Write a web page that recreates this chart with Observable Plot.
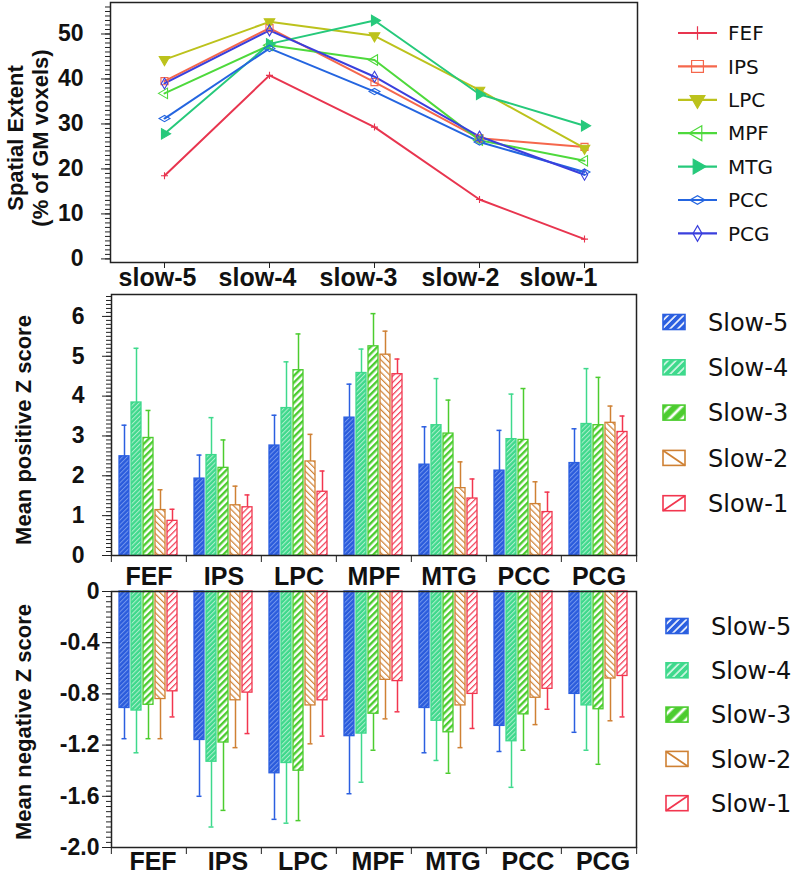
<!DOCTYPE html>
<html>
<head>
<meta charset="utf-8">
<script src="https://cdn.jsdelivr.net/npm/d3@7"></script>
<script src="https://cdn.jsdelivr.net/npm/@observablehq/plot@0.6"></script>
<style>
  html, body { margin: 0; padding: 0; background: #fff; }
  #root { position: relative; width: 792px; height: 876px; overflow: hidden; background: #fff; }
  .panel { position: absolute; left: 0; }
  .ytitle { position: absolute; font-family: "Liberation Sans", Arial, sans-serif; font-weight: bold; font-size: 22px; color: #111;
            white-space: nowrap; text-align: center; transform: translate(-50%, -50%) rotate(-90deg); line-height: 25px; }
  .legend { position: absolute; overflow: visible; }
</style>
</head>
<body>
<svg width="0" height="0" style="position:absolute">
  <defs>
    <pattern id="hatch0" patternUnits="userSpaceOnUse" width="3.3" height="3.3" patternTransform="rotate(45)">
      <rect width="3.3" height="3.3" fill="#2a5bdc"/>
      <line x1="0.5" y1="-1" x2="0.5" y2="5" stroke="#7a9cee" stroke-width="0.9"/>
    </pattern>
    <pattern id="hatch1" patternUnits="userSpaceOnUse" width="3.3" height="3.3" patternTransform="rotate(45)">
      <rect width="3.3" height="3.3" fill="#3fd88c"/>
      <line x1="0.5" y1="-1" x2="0.5" y2="5" stroke="#aeefcd" stroke-width="1"/>
    </pattern>
    <pattern id="hatch2" patternUnits="userSpaceOnUse" width="4.8" height="4.8" patternTransform="rotate(45)">
      <rect width="4.8" height="4.8" fill="#ffffff"/>
      <line x1="1.2" y1="-1" x2="1.2" y2="6" stroke="#4ccc2f" stroke-width="2.4"/>
    </pattern>
    <pattern id="hatch3" patternUnits="userSpaceOnUse" width="4.4" height="4.4" patternTransform="rotate(-45)">
      <rect width="4.4" height="4.4" fill="#ffffff"/>
      <line x1="0.6" y1="-1" x2="0.6" y2="6" stroke="#cf8134" stroke-width="1.2"/>
    </pattern>
    <pattern id="hatch4" patternUnits="userSpaceOnUse" width="4.4" height="4.4" patternTransform="rotate(45)">
      <rect width="4.4" height="4.4" fill="#ffffff"/>
      <line x1="0.6" y1="-1" x2="0.6" y2="6" stroke="#f2364f" stroke-width="1.2"/>
    </pattern>
    <pattern id="lhatch0" patternUnits="userSpaceOnUse" width="5.5" height="5.5" patternTransform="rotate(45)">
      <rect width="5.5" height="5.5" fill="#2b5fe0"/>
      <line x1="1" y1="-1" x2="1" y2="7" stroke="#ffffff" stroke-width="1.6"/>
    </pattern>
    <pattern id="lhatch1" patternUnits="userSpaceOnUse" width="5.5" height="5.5" patternTransform="rotate(45)">
      <rect width="5.5" height="5.5" fill="#3ed98c"/>
      <line x1="1" y1="-1" x2="1" y2="7" stroke="#dcf8ea" stroke-width="1.6"/>
    </pattern>
    <pattern id="lhatch2" patternUnits="userSpaceOnUse" width="9" height="9" patternTransform="rotate(45)">
      <rect width="9" height="9" fill="#4ccc2f"/>
      <line x1="2" y1="-1" x2="2" y2="10" stroke="#ffffff" stroke-width="2.8"/>
    </pattern>
  </defs>
</svg>
<div id="root"></div>
<script>
// ---------------- data ----------------
const periods = ["slow-5", "slow-4", "slow-3", "slow-2", "slow-1"];
const regions = ["FEF", "IPS", "LPC", "MPF", "MTG", "PCC", "PCG"];
const bands = ["Slow-5", "Slow-4", "Slow-3", "Slow-2", "Slow-1"];

// Spatial extent (% of GM voxels), by region, over periods slow-5 ... slow-1
const extentFEF = [18.5, 40.8, 29.3, 13.2, 4.4];
const extentIPS = [39.5, 51.3, 39.3, 26.8, 24.9];
const extentLPC = [44.3, 52.7, 49.6, 37.5, 24.6];
const extentMPF = [36.8, 47.5, 44.2, 26.4, 21.8];
const extentMTG = [27.8, 47.8, 53.0, 36.6, 29.6];
const extentPCC = [31.2, 46.8, 37.2, 26.0, 19.3];
const extentPCG = [39.0, 50.8, 40.5, 27.2, 18.7];

// Mean positive Z score (and upper end of error bar), by band, over regions FEF ... PCG
const posSlow5 = [2.49, 1.93, 2.76, 3.46, 2.28, 2.13, 2.32];
const posSlow4 = [3.84, 2.52, 3.70, 4.58, 3.27, 2.92, 3.30];
const posSlow3 = [2.95, 2.20, 4.65, 5.25, 3.06, 2.90, 3.27];
const posSlow2 = [1.14, 1.26, 2.36, 5.04, 1.69, 1.29, 3.33];
const posSlow1 = [0.87, 1.21, 1.60, 4.55, 1.43, 1.09, 3.10];
const posSlow5Hi = [3.27, 2.52, 3.52, 4.30, 3.23, 3.14, 3.18];
const posSlow4Hi = [5.20, 3.46, 4.86, 5.18, 4.44, 4.05, 4.69];
const posSlow3Hi = [3.64, 2.90, 5.56, 6.07, 3.90, 4.19, 4.47];
const posSlow2Hi = [1.65, 1.74, 3.04, 5.63, 2.35, 1.85, 3.75];
const posSlow1Hi = [1.16, 1.52, 2.12, 4.93, 1.92, 1.59, 3.50];

// Mean negative Z score (and lower end of error bar), by band, over regions FEF ... PCG
const negSlow5 = [-0.91, -1.16, -1.42, -1.13, -0.91, -1.05, -0.80];
const negSlow4 = [-0.93, -1.33, -1.34, -1.11, -1.01, -1.17, -0.89];
const negSlow3 = [-0.885, -1.18, -1.40, -0.955, -1.10, -0.96, -0.92];
const negSlow2 = [-0.84, -0.85, -0.89, -0.69, -0.89, -0.83, -0.68];
const negSlow1 = [-0.78, -0.79, -0.85, -0.70, -0.80, -0.76, -0.66];
const negSlow5Lo = [-1.15, -1.60, -1.78, -1.58, -1.26, -1.25, -1.10];
const negSlow4Lo = [-1.26, -1.84, -1.81, -1.49, -1.32, -1.53, -1.24];
const negSlow3Lo = [-1.15, -1.71, -1.79, -1.24, -1.42, -1.24, -1.35];
const negSlow2Lo = [-1.15, -1.22, -1.19, -0.995, -1.22, -1.04, -1.01];
const negSlow1Lo = [-0.98, -1.11, -1.13, -0.94, -1.07, -0.92, -0.98];

// axis ticks
const extentTicks = [0, 10, 20, 30, 40, 50];
const posTicks = [0, 1, 2, 3, 4, 5, 6];
const negTicks = [-2.0, -1.6, -1.2, -0.8, -0.4, 0];

// ---------------- styles ----------------
const regionColors = ["#e8354f", "#f5674c", "#bcc21c", "#4ed93c", "#26c97b", "#2465e0", "#3a3fdd"];
const markerStyles = [
  {symbol: "plus", rotate: 0, filled: false, r: 2.4, lsize: 60},
  {symbol: "square", rotate: 0, filled: false, r: 4.0, lsize: 140},
  {symbol: "triangle", rotate: 180, filled: true, r: 3.9, lsize: 95},
  {symbol: "triangle", rotate: -90, filled: false, r: 3.9, lsize: 95},
  {symbol: "triangle", rotate: 90, filled: true, r: 3.9, lsize: 95},
  {symbol: "diamond", rotate: 90, filled: false, r: 3.3, lsize: 66},
  {symbol: "diamond", rotate: 0, filled: false, r: 3.3, lsize: 70}
];
const periodLabelShift = [-7, -12, -16, -19, -26];   // label offsets seen in the original figure
const barColors = ["#2b5fe0", "#3ed98c", "#4ccc2f", "#cf8134", "#f2364f"];
const barFills = bands.map((b, i) => `url(#hatch${i})`);
const bandIdx = new Map(bands.map((b, i) => [b, i]));
const FONT = "'Liberation Sans', Arial, Helvetica, sans-serif";
const LFONT = "'DejaVu Sans', Verdana, sans-serif";
const INK = "#222";

// ---------------- tables ----------------
const extentRows = [extentFEF, extentIPS, extentLPC, extentMPF, extentMTG, extentPCC, extentPCG];
const extentData = regions.flatMap((r, i) => periods.map((p, j) => ({region: r, period: p, value: extentRows[i][j]})));

const posMeans = [posSlow5, posSlow4, posSlow3, posSlow2, posSlow1];
const posEnds = [posSlow5Hi, posSlow4Hi, posSlow3Hi, posSlow2Hi, posSlow1Hi];
const posData = bands.flatMap((b, i) => regions.map((r, j) => ({band: b, region: r, mean: posMeans[i][j], end: posEnds[i][j]})));

const negMeans = [negSlow5, negSlow4, negSlow3, negSlow2, negSlow1];
const negEnds = [negSlow5Lo, negSlow4Lo, negSlow3Lo, negSlow2Lo, negSlow1Lo];
const negData = bands.flatMap((b, i) => regions.map((r, j) => ({band: b, region: r, mean: negMeans[i][j], end: negEnds[i][j]})));

const root = document.getElementById("root");
const W = 792, ML = 110, MR = 155;

function place(node, top) {
  node.classList.add("panel");
  node.style.top = top + "px";
  root.appendChild(node);
}

// ---------------- panel 1: spatial extent ----------------
const p1 = Plot.plot({
  width: W, height: 294,
  marginLeft: ML, marginRight: MR, marginTop: 2, marginBottom: 32,
  style: {background: "transparent", overflow: "visible", fontFamily: FONT, color: "#111"},
  x: {type: "point", domain: periods, padding: 0.5},
  y: {domain: [-0.8, 57]},
  color: {domain: regions, range: regionColors},
  marks: [
    Plot.line(extentData, {x: "period", y: "value", z: "region", stroke: "region", strokeWidth: 2}),
    ...regions.map((r, i) => Plot.dot(extentData.filter(d => d.region === r), {
      x: "period", y: "value",
      symbol: markerStyles[i].symbol, rotate: markerStyles[i].rotate, r: markerStyles[i].r,
      stroke: "region", fill: markerStyles[i].filled ? "region" : "none", strokeWidth: 1.1
    })),
    Plot.frame({stroke: INK, strokeWidth: 1.5}),
    Plot.axisY({ticks: d3.range(0, 57, 1), tickSize: 5, tickFormat: () => "", stroke: INK, label: null}),
    Plot.axisY({ticks: extentTicks, tickSize: 9, tickFormat: () => "", stroke: INK, label: null}),
    Plot.text(extentTicks, {y: d => d, text: d => String(d), frameAnchor: "left", dx: -27, textAnchor: "end",
      fontSize: 23, fontWeight: "bold", fill: "#111"}),
    Plot.axisX({tickSize: 6, tickFormat: () => "", stroke: INK, label: null}),
    ...periods.map((p, i) => Plot.axisX({ticks: [p], tickSize: 0, tickPadding: 9, dy: -3.5, dx: periodLabelShift[i],
      fontSize: 25, fontWeight: "bold", label: null}))
  ]
});
place(p1, 0);

// ---------------- panels 2 & 3: bar charts ----------------
function barPanel({data, height, marginBottom, yDomain, ticks, minor, fmt, labelDx, fxDx, fxDy}) {
  const fw = (W - ML - MR) / regions.length;
  const col = d => barColors[bandIdx.get(d.band)];
  return Plot.plot({
    width: W, height,
    marginLeft: ML, marginRight: MR, marginTop: 1, marginBottom,
    style: {background: "transparent", overflow: "visible", fontFamily: FONT, color: "#111"},
    fx: {domain: regions, padding: 0},
    x: {domain: bands, paddingInner: 0.15, paddingOuter: 0.5, axis: null},
    y: {domain: yDomain},
    color: {type: "identity"},
    marks: [
      Plot.barY(data, {fx: "region", x: "band", y1: 0, y2: "mean",
        fill: d => barFills[bandIdx.get(d.band)], stroke: col, strokeWidth: 1.3}),
      Plot.ruleX(data, {fx: "region", x: "band", y1: "mean", y2: "end", stroke: col, strokeWidth: 1.5}),
      Plot.tickY(data, {fx: "region", x: "band", y: "end", stroke: col, strokeWidth: 1.5, insetLeft: 2.5, insetRight: 2.5}),
      Plot.frame({facet: "super", stroke: INK, strokeWidth: 1.5}),
      Plot.axisY({ticks: minor, tickSize: 5, tickFormat: () => "", stroke: INK, label: null}),
      Plot.axisY({ticks, tickSize: 9, tickFormat: () => "", stroke: INK, label: null}),
      Plot.text(ticks, {fx: () => regions[0], y: d => d, text: fmt, frameAnchor: "left", dx: labelDx, textAnchor: "end",
        fontSize: 23, fontWeight: "bold", fill: "#111"}),
      Plot.axisFx({anchor: "bottom", tickSize: 0, tickPadding: 9, dx: fxDx, dy: fxDy, fontSize: 25, fontWeight: "bold", label: null}),
      Plot.axisFx({anchor: "bottom", tickSize: 7, tickFormat: () => "", dx: -fw / 2, stroke: INK, label: null}),
      Plot.axisFx({anchor: "bottom", ticks: regions.slice(-1), tickSize: 7, tickFormat: () => "", dx: fw / 2, stroke: INK, label: null})
    ]
  });
}

const p2 = barPanel({
  data: posData, height: 297, marginBottom: 35, yDomain: [0, 6.55],
  ticks: posTicks, minor: d3.range(0, 66).map(i => i / 10), fmt: d => String(d),
  labelDx: -27, fxDx: 0, fxDy: 3
});
place(p2, 293);

const p3 = barPanel({
  data: negData, height: 286, marginBottom: 29, yDomain: [-2.0, 0],
  ticks: negTicks, minor: d3.range(0, 51).map(i => -2 + i * 0.04), fmt: d => d === 0 ? "0" : d.toFixed(1),
  labelDx: -12, fxDx: 4, fxDy: -4
});
place(p3, 590);

// ---------------- y titles ----------------
function ytitle(html, cx, cy) {
  const div = document.createElement("div");
  div.className = "ytitle";
  div.innerHTML = html;
  div.style.left = cx + "px";
  div.style.top = cy + "px";
  root.appendChild(div);
}
ytitle("Spatial Extent<br>(% of GM voxels)", 28, 138);
ytitle("Mean positive Z score", 23, 430);
ytitle("Mean negative Z score", 23, 722);

// ---------------- legends ----------------
const symbolTypes = {plus: d3.symbolPlus, square: d3.symbolSquare, triangle: d3.symbolTriangle, diamond: d3.symbolDiamond};

(function lineLegend() {
  const svg = d3.select(root).append("svg").attr("class", "legend")
    .style("left", "660px").style("top", "0px").attr("width", 132).attr("height", 250);
  regions.forEach((r, i) => {
    const ms = markerStyles[i];
    const g = svg.append("g").attr("transform", `translate(0,${33 + i * 33.4})`);
    g.append("line").attr("x1", 18).attr("x2", 57).attr("stroke", regionColors[i]).attr("stroke-width", 2.2);
    g.append("path").attr("d", d3.symbol(symbolTypes[ms.symbol], ms.lsize)())
      .attr("transform", `translate(37.5,0) rotate(${ms.rotate})`)
      .attr("fill", ms.filled ? regionColors[i] : "none")
      .attr("stroke", regionColors[i]).attr("stroke-width", 1.2);
    g.append("text").attr("x", 68).attr("dy", "0.36em").attr("font-family", LFONT).attr("font-size", 20)
      .attr("fill", "#111").text(r);
  });
})();

function barLegend(left, top, y0, step, textX) {
  const svg = d3.select(root).append("svg").attr("class", "legend")
    .style("left", left + "px").style("top", top + "px").attr("width", 792 - left).attr("height", 240);
  bands.forEach((b, i) => {
    const g = svg.append("g").attr("transform", `translate(0,${y0 + i * step})`);
    const fill = i < 3 ? `url(#lhatch${i})` : "#fff";
    g.append("rect").attr("x", 3).attr("y", -7.5).attr("width", 22).attr("height", 15)
      .attr("fill", fill).attr("stroke", barColors[i]).attr("stroke-width", 1.6);
    if (i === 3) g.append("line").attr("x1", 3).attr("y1", -7.5).attr("x2", 25).attr("y2", 7.5)
      .attr("stroke", barColors[i]).attr("stroke-width", 1.8);
    if (i === 4) g.append("line").attr("x1", 3).attr("y1", 7.5).attr("x2", 25).attr("y2", -7.5)
      .attr("stroke", barColors[i]).attr("stroke-width", 1.8);
    g.append("text").attr("x", textX).attr("dy", "0.36em").attr("font-family", LFONT).attr("font-size", 24)
      .attr("fill", "#111").text(b);
  });
}
barLegend(660, 290, 32, 45.3, 48);
barLegend(663, 590, 36, 44.3, 48);
</script>
</body>
</html>
